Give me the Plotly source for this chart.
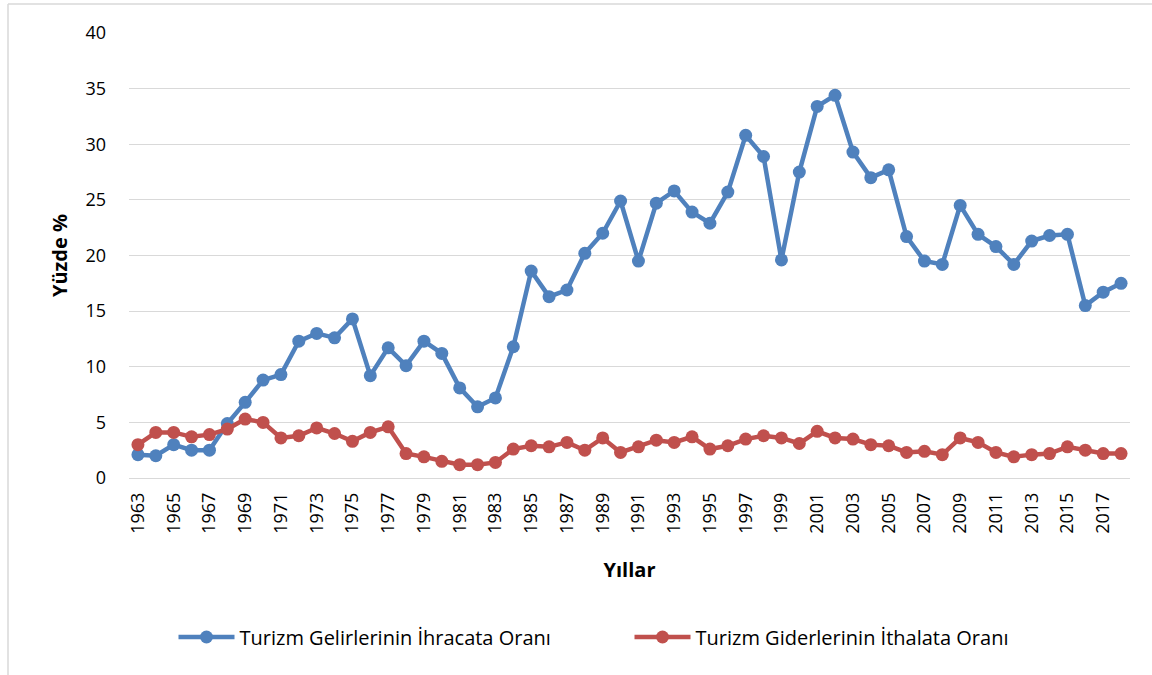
import plotly.graph_objects as go

years = list(range(1963, 2019))
gelir_ihracat = [2.1, 2.0, 3.0, 2.5, 2.5, 4.9, 6.8, 8.8, 9.3, 12.3,
                 13.0, 12.6, 14.3, 9.2, 11.7, 10.1, 12.3, 11.2, 8.1, 6.4,
                 7.2, 11.8, 18.6, 16.3, 16.9, 20.2, 22.0, 24.9, 19.5, 24.7,
                 25.8, 23.9, 22.9, 25.7, 30.8, 28.9, 19.6, 27.5, 33.4, 34.4,
                 29.3, 27.0, 27.7, 21.7, 19.5, 19.2, 24.5, 21.9, 20.8, 19.2,
                 21.3, 21.8, 21.9, 15.5, 16.7, 17.5]
gider_ithalat = [3.0, 4.1, 4.1, 3.7, 3.9, 4.4, 5.3, 5.0, 3.6, 3.8,
                 4.5, 4.0, 3.3, 4.1, 4.6, 2.2, 1.9, 1.5, 1.2, 1.2,
                 1.4, 2.6, 2.9, 2.8, 3.2, 2.5, 3.6, 2.3, 2.8, 3.4,
                 3.2, 3.7, 2.6, 2.9, 3.5, 3.8, 3.6, 3.1, 4.2, 3.6,
                 3.5, 3.0, 2.9, 2.3, 2.4, 2.1, 3.6, 3.2, 2.3, 1.9,
                 2.1, 2.2, 2.8, 2.5, 2.2, 2.2]
tick_years = years[::2]
y_ticks = [0, 5, 10, 15, 20, 25, 30, 35, 40]
names = ["Turizm Gelirlerinin İhracata Oranı", "Turizm Giderlerinin İthalata Oranı"]
colors = ["#4F81BD", "#C0504D"]

font_family = "Open Sans, DejaVu Sans, sans-serif"

W, H = 1152, 675
L, R, T, B = 129, 22, 33, 197
PW, PH = W - L - R, H - T - B

fig = go.Figure()
for vals, name, col in zip([gelir_ihracat, gider_ithalat], names, colors):
    fig.add_trace(go.Scatter(
        x=years, y=vals, name=name, mode="lines+markers",
        line=dict(color=col, width=4.5),
        marker=dict(color=col, size=13),
    ))

fig.update_layout(
    width=W, height=H,
    margin=dict(l=L, r=R, t=T, b=B, autoexpand=False),
    paper_bgcolor="white", plot_bgcolor="white",
    font=dict(family=font_family, size=18, color="black"),
    showlegend=True,
    legend=dict(orientation="h", x=0.5, xanchor="center", y=-(637 - 478) / PH,
                yanchor="middle", font=dict(size=20), itemwidth=56,
                entrywidth=385, entrywidthmode="pixels",
                traceorder="normal"),
    xaxis=dict(
        range=[1962.5, 2018.5], tickmode="array", tickvals=tick_years,
        ticktext=[str(y) for y in tick_years], tickangle=-90,
        showgrid=False, zeroline=False, showline=False, ticks="",
        tickfont=dict(size=18), ticklabelstandoff=10, automargin=False,
        title=dict(text="<b>Yıllar</b>", font=dict(size=20), standoff=30),
    ),
    yaxis=dict(
        range=[0, 40], tickmode="array", tickvals=y_ticks,
        showgrid=True, gridcolor="#D9D9D9", gridwidth=1,
        zeroline=True, zerolinecolor="#D9D9D9", zerolinewidth=1,
        showline=False, ticks="", tickfont=dict(size=18),
        ticklabelstandoff=22, automargin=False,
        title=dict(text="<b>Yüzde %</b>", font=dict(size=20), standoff=12),
    ),
    shapes=[
        dict(type="line", xref="paper", yref="paper",
             x0=-(L - 8) / PW, x1=-(L - 8) / PW, y0=1 + (T - 4) / PH, y1=-B / PH,
             line=dict(color="#D9D9D9", width=1.5)),
        dict(type="line", xref="paper", yref="paper",
             x0=-(L - 8) / PW, x1=1 + R / PW, y0=1 + (T - 4) / PH, y1=1 + (T - 4) / PH,
             line=dict(color="#D9D9D9", width=1.5)),
    ],
)

fig.write_html("out.html", config={"displayModeBar": False},
               post_script="document.body.style.margin='0px';")
